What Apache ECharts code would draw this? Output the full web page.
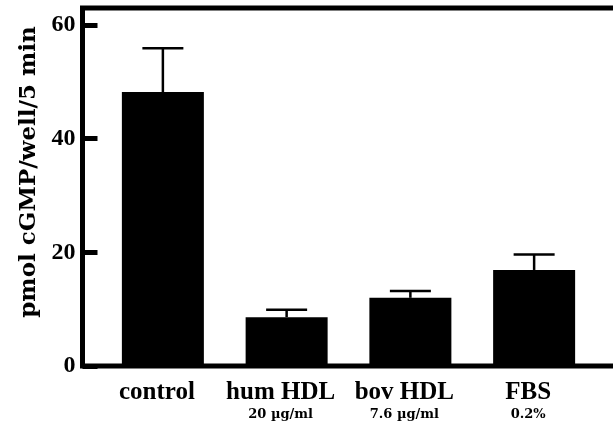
<!DOCTYPE html>
<html>
<head>
<meta charset="utf-8">
<script src="https://cdn.jsdelivr.net/npm/echarts@6/dist/echarts.min.js"></script>
<style>
  html, body { margin: 0; padding: 0; background: #fff; }
  #chart { width: 613px; height: 426px; }
</style>
</head>
<body>
<div id="chart"></div>
<script>
// groups and their dose lines
const categories = ['control', 'hum HDL', 'bov HDL', 'FBS']
const doses = ['', '20 µg/ml', '7.6 µg/ml', '0.2%']
// pmol cGMP/well/5 min
const values = [48.2, 8.6, 12.0, 16.9]
const errors = [7.7, 1.3, 1.2, 2.7]
const yTicks = [0, 20, 40, 60]

const font = "'Liberation Serif', 'Times New Roman', serif"

const myChart = echarts.init(document.getElementById('chart'))

const errData = values.map((v, i) => [i, v, v + errors[i]])

const option = {
  animation: false,
  backgroundColor: '#fff',
  grid: [
    // frame + y axis, right side runs off the canvas
    {
      left: 82.5, top: 8, width: 580, bottom: 60,
      outerBoundsMode: 'none',
      show: true, borderColor: '#000', borderWidth: 5, backgroundColor: 'transparent'
    },
    // bars
    { left: 101, top: 8, right: 17, bottom: 60, outerBoundsMode: 'none' }
  ],
  xAxis: [
    { gridIndex: 0, type: 'value', show: false },
    {
      gridIndex: 1,
      type: 'category',
      data: categories,
      axisLine: { show: false },
      axisTick: { show: false },
      axisLabel: {
        margin: 14,
        padding: [0, 12, 0, 0],
        formatter: function (value, idx) {
          return doses[idx] ? '{a|' + value + '}\n{b|' + doses[idx] + '}' : '{a|' + value + '}'
        },
        rich: {
          a: { fontFamily: font, fontWeight: 'bold', fontSize: 25, lineHeight: 26, color: '#000' },
          b: { fontFamily: "'DejaVu Serif', serif", fontWeight: 'bold', fontSize: 13, lineHeight: 18, color: '#000' }
        }
      }
    }
  ],
  yAxis: [
    {
      gridIndex: 0,
      type: 'value',
      min: 0,
      max: 63,
      interval: 20,
      name: 'pmol cGMP/well/5 min',
      nameLocation: 'middle',
      nameGap: 42,
      nameTextStyle: {
        fontFamily: "'DejaVu Serif', serif", fontWeight: 'bold', fontSize: 23, color: '#000',
        padding: [0, 0, 0, 30]
      },
      axisLine: { show: false },
      axisTick: { show: true, inside: true, length: 15, lineStyle: { color: '#000', width: 5 } },
      splitLine: { show: false },
      axisLabel: {
        margin: 7,
        showMaxLabel: false,
        padding: [6, 0, 0, 0],
        fontFamily: font, fontWeight: 'bold', fontSize: 24, color: '#000',
        formatter: function (v) { return yTicks.indexOf(v) >= 0 ? String(v) : '' }
      }
    },
    { gridIndex: 1, type: 'value', min: 0, max: 63, show: false }
  ],
  series: [
    {
      type: 'bar',
      xAxisIndex: 1,
      yAxisIndex: 1,
      data: values,
      barWidth: 82,
      itemStyle: { color: '#000' }
    },
    {
      type: 'custom',
      xAxisIndex: 1,
      yAxisIndex: 1,
      data: errData,
      renderItem: function (params, api) {
        const base = api.coord([api.value(0), api.value(1)])
        const top = api.coord([api.value(0), api.value(2)])
        const hw = 20.5
        const style = { stroke: '#000', lineWidth: 2.5 }
        return {
          type: 'group',
          children: [
            { type: 'line', shape: { x1: top[0], y1: base[1], x2: top[0], y2: top[1] }, style: style },
            { type: 'line', shape: { x1: top[0] - hw, y1: top[1], x2: top[0] + hw, y2: top[1] }, style: style }
          ]
        }
      },
      z: 3
    }
  ]
}

myChart.setOption(option)
</script>
</body>
</html>
